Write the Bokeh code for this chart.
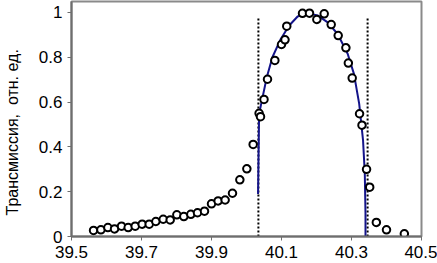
from bokeh.plotting import figure
from bokeh.models import Range1d, FixedTicker
from bokeh.embed import file_html
from bokeh.resources import INLINE

# measured points
x_pts = [39.563, 39.584, 39.604, 39.623, 39.643, 39.662, 39.682, 39.702, 39.722, 39.741,
         39.762, 39.782, 39.801, 39.821, 39.841, 39.860, 39.880, 39.900, 39.919, 39.939,
         39.960, 39.981, 40.001, 40.019, 40.036, 40.040, 40.050, 40.060, 40.081, 40.100,
         40.110, 40.115, 40.160, 40.180, 40.201, 40.222, 40.242, 40.262, 40.284, 40.291,
         40.302, 40.323, 40.330, 40.343, 40.352, 40.371, 40.400, 40.451]
y_pts = [0.027, 0.030, 0.040, 0.034, 0.046, 0.040, 0.046, 0.055, 0.055, 0.067,
         0.077, 0.074, 0.097, 0.089, 0.099, 0.106, 0.113, 0.146, 0.159, 0.163,
         0.193, 0.253, 0.302, 0.411, 0.550, 0.535, 0.612, 0.702, 0.786, 0.857,
         0.878, 0.939, 0.996, 0.997, 0.969, 0.994, 0.946, 0.897, 0.842, 0.774,
         0.707, 0.548, 0.497, 0.300, 0.220, 0.063, 0.030, 0.012]

# fitted curve
x_fit = [40.033, 40.036, 40.046, 40.058, 40.074, 40.098, 40.122, 40.146, 40.174, 40.203,
         40.231, 40.260, 40.289, 40.307, 40.322, 40.333, 40.338, 40.340, 40.340]
y_fit = [0.190, 0.548, 0.622, 0.711, 0.800, 0.882, 0.942, 0.982, 0.997, 0.987,
         0.957, 0.905, 0.816, 0.726, 0.592, 0.429, 0.280, 0.100, 0.000]

# vertical dotted limits
x_lim = [40.034, 40.346]
y_lim_top = 0.98

x_ticks = [39.5, 39.7, 39.9, 40.1, 40.3, 40.5]
y_ticks = [0, 0.2, 0.4, 0.6, 0.8, 1]
y_label = "Трансмиссия,  отн. ед."

FONT = "Liberation Sans"

p = figure(width=437, height=263, output_backend="svg", toolbar_location=None,
           x_range=Range1d(39.5, 40.5), y_range=Range1d(0, 1.049),
           min_border_left=71, min_border_right=16, min_border_top=1, min_border_bottom=27)

p.grid.visible = False
p.background_fill_color = "white"
p.border_fill_color = "white"
p.outline_line_color = "#8a8a8a"
p.outline_line_width = 2

for ax in (p.xaxis[0], p.yaxis[0]):
    ax.axis_line_color = "#6e6e6e"
    ax.axis_line_width = 2
    ax.major_tick_line_color = "#6e6e6e"
    ax.major_tick_line_width = 1
    ax.major_tick_in = 0
    ax.major_tick_out = 4
    ax.minor_tick_line_color = None
    ax.major_label_text_font = FONT
    ax.major_label_text_font_size = "17px"
    ax.major_label_text_color = "black"

p.xaxis.ticker = FixedTicker(ticks=x_ticks)
p.yaxis.ticker = FixedTicker(ticks=y_ticks)
p.xaxis.major_label_overrides = {v: f"{v:.1f}" for v in x_ticks}
p.yaxis.major_label_overrides = {0: "0", 0.2: "0.2", 0.4: "0.4", 0.6: "0.6", 0.8: "0.8", 1: "1"}
p.xaxis.major_label_standoff = 5
p.yaxis.major_label_standoff = 5

# shift the label's centre downwards like the reference (trailing non-breaking spaces)
p.yaxis.axis_label = y_label.replace("  ", "\u00a0 ") + "\u00a0" * 6
p.yaxis.axis_label_text_font = FONT
p.yaxis.axis_label_text_font_size = "16px"
p.yaxis.axis_label_text_font_style = "normal"
p.yaxis.axis_label_text_color = "black"
p.yaxis.axis_label_standoff = 15

for xl in x_lim:
    p.line([xl, xl], [0, y_lim_top], line_color="black", line_width=2, line_dash="2 2")

p.line(x_fit, y_fit, line_color="#14148a", line_width=2)

p.scatter(x_pts, y_pts, marker="circle", size=7.5, line_color="black", line_width=2,
          fill_color="white")

open("out.html", "w").write(file_html(p, INLINE))
